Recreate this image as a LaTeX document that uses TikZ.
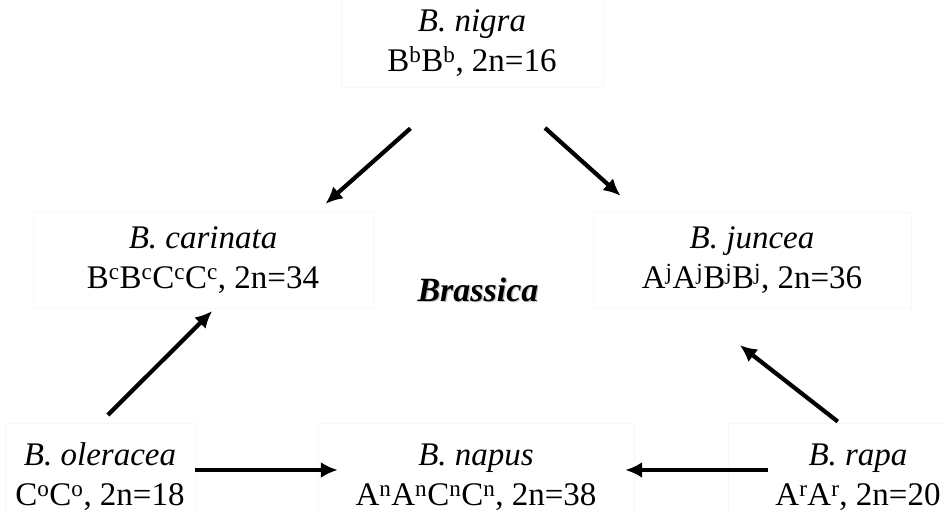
\documentclass[tikz,border=0pt]{standalone}
\usepackage{fontspec}
\setmainfont{Liberation Serif}
\usetikzlibrary{arrows.meta}

\tikzset{
  species/.style={draw=black!3, align=center, inner sep=0pt, minimum height=96pt,
    font=\fontsize{33}{40}\selectfont},
  cross/.style={line width=4.2pt, -{Latex[length=17pt,width=16pt]}}
}

\begin{document}
\begin{tikzpicture}[x=1pt,y=-1pt]
  \useasboundingbox (0,0) rectangle (943,513);

  \node[species, minimum width=262pt, minimum height=88pt] (nigra) at (472,43) {\textit{B. nigra}\\B\textsuperscript{b}B\textsuperscript{b}, 2n=16};
  \node[species, minimum width=340pt] (carinata) at (203,260) {\textit{B. carinata}\\B\textsuperscript{c}B\textsuperscript{c}C\textsuperscript{c}C\textsuperscript{c}, 2n=34};
  \node[species, minimum width=318pt] (juncea) at (752,260) {\textit{B. juncea}\\A\textsuperscript{j}A\textsuperscript{j}B\textsuperscript{j}B\textsuperscript{j}, 2n=36};
  \node[species, minimum width=190pt, minimum height=108pt] (oleracea) at (100,477) {\textit{B. oleracea}\\C\textsuperscript{o}C\textsuperscript{o}, 2n=18};
  \node[species, minimum width=316pt, minimum height=108pt] (napus) at (476,477) {\textit{B. napus}\\A\textsuperscript{n}A\textsuperscript{n}C\textsuperscript{n}C\textsuperscript{n}, 2n=38};
  \node[species, minimum width=260pt, minimum height=108pt] (rapa) at (858,477) {\textit{B. rapa}\\A\textsuperscript{r}A\textsuperscript{r}, 2n=20};

  \node[font=\fontsize{34}{40}\selectfont\bfseries\itshape] (genus) at (478,290)
    {\rlap{\kern1.2pt\raisebox{-1.2pt}{\color{black!22}Brassica}}Brassica};

  % hybridisations
  \draw[cross, shorten <=62pt, shorten >=12pt] (nigra.251) -- (carinata.23);
  \draw[cross, shorten <=61pt, shorten >=24pt] (nigra.302) -- (juncea.157);
  \draw[cross, shorten <=11pt, shorten >=4pt] (oleracea.90) -- (carinata.284);
  \draw[cross, shorten <=2pt, shorten >=60pt] (rapa.109) -- (juncea.219);
  \draw[cross, shorten >=-20pt] ([yshift=7pt]oleracea.east) -- ([yshift=7pt]napus.west);
  \draw[cross, shorten <=-40pt, shorten >=-9pt] ([yshift=7pt]rapa.west) -- ([yshift=7pt]napus.east);
\end{tikzpicture}
\end{document}
